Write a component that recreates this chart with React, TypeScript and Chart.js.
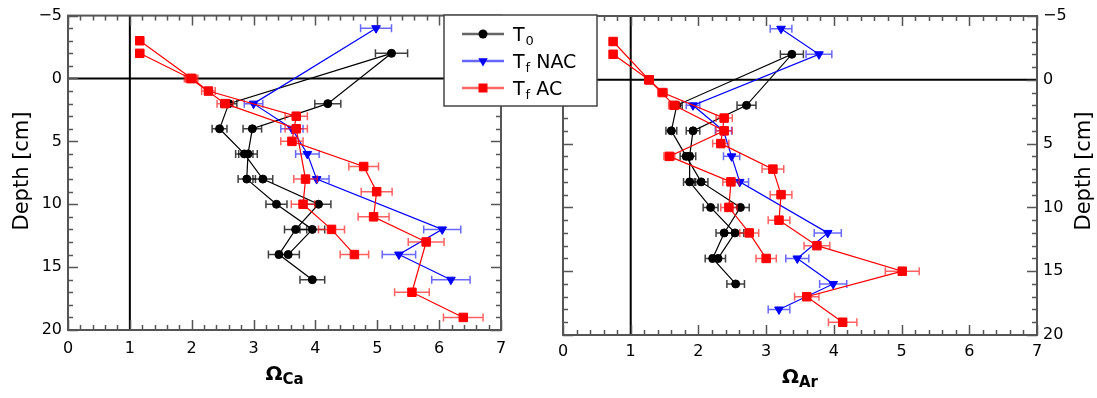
import React, { useEffect, useRef } from 'react';
import { Chart, registerables } from 'chart.js';

Chart.register(...registerables);

const FONT = "'DejaVu Sans', 'Liberation Sans', sans-serif";

// ---------- axis ticks ----------
const omegaTicks = [0, 1, 2, 3, 4, 5, 6, 7];
const depthTicks = [-5, 0, 5, 10, 15, 20];

// ---------- legend ----------
const legendMain = ['T', 'T', 'T'];
const legendSub = ['0', 'f', 'f'];
const legendRest = ['', ' NAC', ' AC'];

// ---------- Ω_Ca panel ----------
const caT0Depth = [16, 14, 12, 10, 8, 6, 4, 2, -2, 2, 4, 6, 8, 10, 12, 14];
const caT0Omega = [3.95, 3.41, 3.68, 4.05, 3.15, 2.85, 2.45, 2.6, 5.23, 4.2, 2.98, 2.91, 2.89, 3.37, 3.95, 3.56];
const caT0Err = [0.2, 0.17, 0.18, 0.2, 0.16, 0.14, 0.12, 0.13, 0.26, 0.21, 0.15, 0.15, 0.14, 0.17, 0.2, 0.18];

const caNacDepth = [-4, 2, 4, 6, 8, 12, 14, 16];
const caNacOmega = [4.98, 3.0, 3.62, 3.87, 4.02, 6.05, 5.35, 6.19];
const caNacErr = [0.25, 0.15, 0.18, 0.19, 0.2, 0.3, 0.27, 0.31];

const caAcADepth = [-3, 0, 1, 3, 5, 7, 9, 11, 13, 17, 19];
const caAcAOmega = [1.16, 2.0, 2.27, 3.69, 3.62, 4.78, 4.99, 4.94, 5.79, 5.56, 6.39];
const caAcAErr = [0.06, 0.1, 0.11, 0.18, 0.18, 0.24, 0.25, 0.25, 0.29, 0.28, 0.32];

const caAcBDepth = [-2, 0, 2, 4, 8, 10, 12, 14];
const caAcBOmega = [1.16, 1.98, 2.54, 3.69, 3.84, 3.8, 4.26, 4.63];
const caAcBErr = [0.06, 0.1, 0.13, 0.18, 0.19, 0.19, 0.21, 0.23];

// ---------- Ω_Ar panel ----------
const arT0Depth = [16, 14, 12, 10, 8, 6, 4, 2, -2, 2, 4, 6, 8, 10, 12, 14];
const arT0Omega = [2.55, 2.21, 2.38, 2.62, 2.04, 1.82, 1.6, 1.68, 3.38, 2.71, 1.92, 1.87, 1.87, 2.18, 2.54, 2.29];
const arT0Err = [0.13, 0.11, 0.12, 0.13, 0.1, 0.09, 0.08, 0.08, 0.17, 0.14, 0.1, 0.09, 0.09, 0.11, 0.13, 0.11];

const arNacDepth = [-4, -2, 2, 4, 6, 8, 12, 14, 16, 18];
const arNacOmega = [3.22, 3.78, 1.92, 2.37, 2.49, 2.61, 3.91, 3.46, 3.99, 3.19];
const arNacErr = [0.16, 0.19, 0.1, 0.12, 0.12, 0.13, 0.2, 0.17, 0.2, 0.16];

const arAcADepth = [-3, 0, 1, 3, 5, 7, 9, 11, 13, 15, 17, 19];
const arAcAOmega = [0.74, 1.27, 1.47, 2.38, 2.33, 3.1, 3.22, 3.19, 3.75, 5.01, 3.6, 4.13];
const arAcAErr = [0.04, 0.06, 0.07, 0.12, 0.12, 0.16, 0.16, 0.16, 0.19, 0.25, 0.18, 0.21];

const arAcBDepth = [-2, 0, 2, 4, 6, 8, 10, 12, 14];
const arAcBOmega = [0.74, 1.27, 1.64, 2.38, 1.57, 2.48, 2.45, 2.75, 3.0];
const arAcBErr = [0.04, 0.06, 0.08, 0.12, 0.08, 0.12, 0.12, 0.14, 0.15];

// ---------- styles ----------
const BLACK = '#000000';
const BLUE = '#0000ff';
const RED = '#ff0000';
const FRAME = '#555555';

function pts(omega: number[], depth: number[]) {
  return omega.map((v, i) => ({ x: v, y: depth[i] }));
}

function styleFor(kind: 't0' | 'nac' | 'ac') {
  if (kind === 't0')
    return { color: BLACK, err: 'rgba(0,0,0,0.75)', pointStyle: 'circle', pointRadius: 4, pointRotation: 0, order: 2 };
  if (kind === 'nac')
    return { color: BLUE, err: 'rgba(40,40,255,0.7)', pointStyle: 'triangle', pointRadius: 5, pointRotation: 180, order: 1 };
  return { color: RED, err: 'rgba(255,30,30,0.7)', pointStyle: 'rect', pointRadius: 6, pointRotation: 0, order: 0 };
}

function ds(label: string, kind: 't0' | 'nac' | 'ac', omega: number[], depth: number[], err: number[]) {
  const s = styleFor(kind);
  return {
    label,
    data: pts(omega, depth),
    errors: err,
    errColor: s.err,
    showLine: true,
    borderColor: s.color,
    backgroundColor: s.color,
    borderWidth: 1.2,
    pointStyle: s.pointStyle,
    pointRadius: s.pointRadius,
    pointRotation: s.pointRotation,
    pointBorderWidth: 1,
    pointBorderColor: s.color,
    pointBackgroundColor: s.color,
    order: s.order,
    clip: false,
  };
}

function drawMarker(ctx: CanvasRenderingContext2D, kind: string, x: number, y: number, color: string) {
  ctx.fillStyle = color;
  ctx.beginPath();
  if (kind === 'circle') {
    ctx.arc(x, y, 4.5, 0, Math.PI * 2);
  } else if (kind === 'triangle') {
    const r = 5.5;
    ctx.moveTo(x, y + r);
    ctx.lineTo(x - r * 0.866, y - r * 0.5);
    ctx.lineTo(x + r * 0.866, y - r * 0.5);
    ctx.closePath();
  } else {
    ctx.rect(x - 4.5, y - 4.5, 9, 9);
  }
  ctx.fill();
}

const decorPlugin = {
  id: 'decor',
  beforeDatasetsDraw(chart: any) {
    const { ctx, chartArea: a, scales } = chart;
    const x = scales.x, y = scales.y;
    ctx.save();
    ctx.strokeStyle = '#000';
    ctx.lineWidth = 2;
    const px1 = x.getPixelForValue(1);
    const py0 = y.getPixelForValue(0);
    ctx.beginPath();
    ctx.moveTo(px1, a.top);
    ctx.lineTo(px1, a.bottom);
    ctx.moveTo(a.left, py0);
    ctx.lineTo(a.right, py0);
    ctx.stroke();
    ctx.restore();
  },
  beforeDatasetDraw(chart: any, args: any) {
    const d = chart.data.datasets[args.index];
    if (!d.errors) return;
    const { ctx, scales } = chart;
    const x = scales.x, y = scales.y;
    ctx.save();
    ctx.strokeStyle = d.errColor;
    ctx.lineWidth = 1.5;
    d.data.forEach((p: any, i: number) => {
      const e = d.errors[i];
      const yy = y.getPixelForValue(p.y);
      const xl = x.getPixelForValue(p.x - e);
      const xr = x.getPixelForValue(p.x + e);
      ctx.beginPath();
      ctx.moveTo(xl, yy);
      ctx.lineTo(xr, yy);
      ctx.moveTo(xl, yy - 4);
      ctx.lineTo(xl, yy + 4);
      ctx.moveTo(xr, yy - 4);
      ctx.lineTo(xr, yy + 4);
      ctx.stroke();
    });
    ctx.restore();
  },
  afterDraw(chart: any, _args: any, opts: any) {
    const { ctx, chartArea: a, scales } = chart;
    const x = scales.x, y = scales.y;
    ctx.save();
    // ticks
    ctx.strokeStyle = FRAME;
    ctx.lineWidth = 1.5;
    ctx.beginPath();
    for (let k = 0; k <= 35; k++) {
      const v = k / 5;
      const len = k % 5 === 0 ? 10 : 5;
      const px = Math.round(x.getPixelForValue(v)) + 0.5;
      ctx.moveTo(px, a.top);
      ctx.lineTo(px, a.top + len);
      ctx.moveTo(px, a.bottom);
      ctx.lineTo(px, a.bottom - len);
    }
    for (let v = -5; v <= 20; v++) {
      const len = v % 5 === 0 ? 10 : 5;
      const py = Math.round(y.getPixelForValue(v)) + 0.5;
      ctx.moveTo(a.left, py);
      ctx.lineTo(a.left + len, py);
      ctx.moveTo(a.right, py);
      ctx.lineTo(a.right - len, py);
    }
    ctx.stroke();
    // frame
    ctx.lineWidth = 2;
    ctx.strokeRect(a.left, a.top, a.right - a.left, a.bottom - a.top);

    // x title with subscript
    ctx.fillStyle = '#000';
    ctx.textBaseline = 'alphabetic';
    ctx.textAlign = 'left';
    const mainFont = `bold 20px ${FONT}`;
    const subFont = `bold 15px ${FONT}`;
    ctx.font = mainFont;
    const w1 = ctx.measureText('Ω').width;
    ctx.font = subFont;
    const w2 = ctx.measureText(opts.xSub).width;
    const cx = (a.left + a.right) / 2;
    const sx = cx - (w1 + w2) / 2;
    ctx.font = mainFont;
    ctx.fillText('Ω', sx, opts.xTitleY);
    ctx.font = subFont;
    ctx.fillText(opts.xSub, sx + w1, opts.xTitleY + 4);

    // y title
    ctx.save();
    ctx.translate(opts.yTitleX, 171);
    ctx.rotate(-Math.PI / 2);
    ctx.font = `21px ${FONT}`;
    ctx.textAlign = 'center';
    ctx.textBaseline = 'middle';
    ctx.fillText('Depth [cm]', 0, 0);
    ctx.restore();

    // legend
    if (opts.legend) {
      const lx = opts.legendX, ly = 15, lw = 153, lh = 91;
      ctx.fillStyle = '#fff';
      ctx.fillRect(lx, ly, lw, lh);
      ctx.strokeStyle = '#444';
      ctx.lineWidth = 1.5;
      ctx.strokeRect(lx, ly, lw, lh);
      const kinds = ['circle', 'triangle', 'rect'];
      const lineCols = ['rgba(0,0,0,0.6)', 'rgba(0,0,255,0.6)', 'rgba(255,0,0,0.6)'];
      const cols = [BLACK, BLUE, RED];
      const rows = [34, 61, 88];
      for (let i = 0; i < 3; i++) {
        const ry = rows[i];
        ctx.strokeStyle = lineCols[i];
        ctx.lineWidth = 2.5;
        ctx.beginPath();
        ctx.moveTo(lx + 18, ry);
        ctx.lineTo(lx + 60, ry);
        ctx.stroke();
        drawMarker(ctx, kinds[i], lx + 39, ry, cols[i]);
        ctx.fillStyle = '#000';
        ctx.textBaseline = 'alphabetic';
        ctx.textAlign = 'left';
        ctx.font = `19px ${FONT}`;
        let tx = lx + 69;
        ctx.fillText(legendMain[i], tx, ry + 7);
        tx += ctx.measureText(legendMain[i]).width;
        ctx.font = `13px ${FONT}`;
        ctx.fillText(legendSub[i], tx + 1, ry + 11);
        tx += ctx.measureText(legendSub[i]).width + 1;
        ctx.font = `19px ${FONT}`;
        ctx.fillText(legendRest[i], tx, ry + 7);
      }
    }
    ctx.restore();
  },
};

function depthLabel(v: number) {
  return v < 0 ? '\u2212' + Math.abs(v) : String(v);
}

function makeConfig(panel: 'ca' | 'ar') {
  const isCa = panel === 'ca';
  const datasets = isCa
    ? [
        ds('T0', 't0', caT0Omega, caT0Depth, caT0Err),
        ds('Tf NAC', 'nac', caNacOmega, caNacDepth, caNacErr),
        ds('Tf AC', 'ac', caAcAOmega, caAcADepth, caAcAErr),
        ds('Tf AC', 'ac', caAcBOmega, caAcBDepth, caAcBErr),
      ]
    : [
        ds('T0', 't0', arT0Omega, arT0Depth, arT0Err),
        ds('Tf NAC', 'nac', arNacOmega, arNacDepth, arNacErr),
        ds('Tf AC', 'ac', arAcAOmega, arAcADepth, arAcAErr),
        ds('Tf AC', 'ac', arAcBOmega, arAcBDepth, arAcBErr),
      ];
  const tickFont = { family: FONT, size: 16 };
  return {
    type: 'scatter',
    data: { datasets },
    options: {
      animation: false,
      responsive: false,
      maintainAspectRatio: false,
      layout: isCa
        ? { padding: { left: 0, top: 14, right: 19, bottom: 0 } }
        : { padding: { left: 123, top: 16, right: 0, bottom: 0 } },
      plugins: {
        legend: { display: false },
        tooltip: { enabled: false },
        decor: isCa
          ? { xSub: 'Ca', xTitleY: 380, yTitleX: 23, legend: false }
          : { xSub: 'Ar', xTitleY: 383, yTitleX: 645, legend: true, legendX: 4 },
      },
      scales: {
        x: {
          type: 'linear',
          position: 'bottom',
          min: 0,
          max: 7,
          afterBuildTicks: (s: any) => {
            s.ticks = omegaTicks.map((v) => ({ value: v }));
          },
          ticks: { font: tickFont, color: '#000', padding: isCa ? 9 : 7, maxRotation: 0, autoSkip: false },
          grid: { display: false, drawTicks: false },
          border: { display: false },
          afterFit: (s: any) => {
            s.height = isCa ? 68 : 63;
          },
        },
        y: {
          type: 'linear',
          position: isCa ? 'left' : 'right',
          reverse: true,
          min: -5,
          max: 20,
          afterBuildTicks: (s: any) => {
            s.ticks = depthTicks.map((v) => ({ value: v }));
          },
          ticks: { font: tickFont, color: '#000', padding: 6, autoSkip: false, callback: (v: any) => depthLabel(Number(v)) },
          grid: { display: false, drawTicks: false },
          border: { display: false },
          afterFit: (s: any) => {
            s.width = isCa ? 68 : 60;
          },
        },
      },
    },
    plugins: [decorPlugin],
  };
}

function Panel({ panel, left, width }: { panel: 'ca' | 'ar'; left: number; width: number }) {
  const ref = useRef<HTMLCanvasElement | null>(null);
  useEffect(() => {
    if (!ref.current) return;
    const chart = new Chart(ref.current, makeConfig(panel) as any);
    return () => chart.destroy();
  }, [panel]);
  return (
    <canvas
      ref={ref}
      width={width}
      height={398}
      style={{ position: 'absolute', left, top: 0, width, height: 398 }}
    />
  );
}

export default function App() {
  return (
    <div style={{ position: 'fixed', left: 0, top: 0, width: 1097, height: 398, background: '#fff', overflow: 'hidden' }}>
      <Panel panel="ca" left={0} width={520} />
      <Panel panel="ar" left={440} width={657} />
    </div>
  );
}
